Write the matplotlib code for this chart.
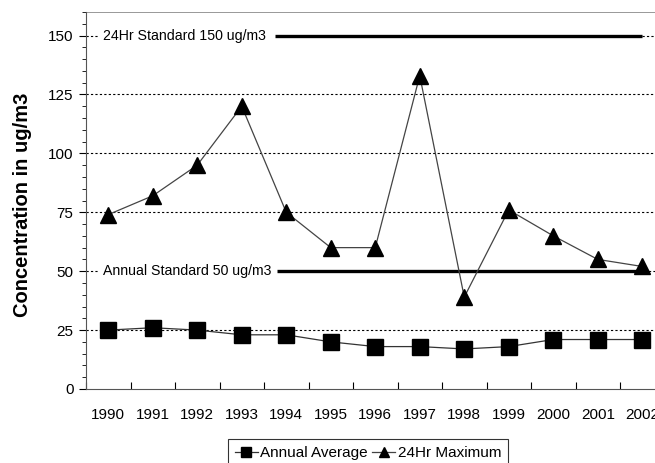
import matplotlib.pyplot as plt
from matplotlib.ticker import MultipleLocator

# data
years = ['1990', '1991', '1992', '1993', '1994', '1995', '1996',
         '1997', '1998', '1999', '2000', '2001', '2002']
annual_avg = [25, 26, 25, 23, 23, 20, 18, 18, 17, 18, 21, 21, 21]
max_24hr = [74, 82, 95, 120, 75, 60, 60, 133, 39, 76, 65, 55, 52]
std_24hr = 150
std_annual = 50

plt.rcParams['font.family'] = ['Liberation Sans', 'DejaVu Sans']
FS = 11

W, H = 655, 463
fig = plt.figure(figsize=(W / 100, H / 100), dpi=100)
# axes runs past the right edge of the picture, like the original
x0, x1, y0, y1 = 86, 664.5, 12, 389
ax = fig.add_axes([x0 / W, 1 - y1 / H, (x1 - x0) / W, (y1 - y0) / H])

xs = list(range(len(years)))
ax.set_xlim(-0.5, len(years) - 0.5)
ax.set_ylim(0, 160)

# grid lines
for g in [25, 75, 100, 125]:
    ax.axhline(g, color='black', lw=0.8, ls=(0, (2, 2)), zorder=1)

# standard lines: dotted near the axis, label, then thick line
ax.plot([-0.5, -0.2], [std_24hr] * 2, color='black', lw=0.8, ls=(0, (2, 2)))
ax.text(-0.12, std_24hr, '24Hr Standard 150 ug/m3', fontsize=10.2, va='center', ha='left')
ax.plot([3.75, 12.0], [std_24hr] * 2, color='black', lw=2.4, solid_capstyle='butt')
ax.plot([12.0, 12.5], [std_24hr] * 2, color='black', lw=0.8, ls=(0, (2, 2)))

ax.plot([-0.5, -0.2], [std_annual] * 2, color='black', lw=0.8, ls=(0, (2, 2)))
ax.text(-0.12, std_annual, 'Annual Standard 50 ug/m3', fontsize=10.2, va='center', ha='left')
ax.plot([3.8, 12.05], [std_annual] * 2, color='black', lw=2.4, solid_capstyle='butt')
ax.plot([12.05, 12.5], [std_annual] * 2, color='black', lw=0.8, ls=(0, (2, 2)))

l1, = ax.plot(xs, annual_avg, color='#333333', lw=0.9, marker='s', ms=11,
              mfc='black', mec='black', label='Annual Average', zorder=3)
l2, = ax.plot(xs, max_24hr, color='#444444', lw=0.9, marker='^', ms=11,
              mfc='black', mec='black', label='24Hr Maximum', zorder=3)

ax.set_xticks([x + 0.5 for x in xs[:-1]] + [-0.5])
ax.set_xticklabels([])
ax.set_xticks(xs, minor=True)
ax.set_xticklabels(years, minor=True, fontsize=FS)
ax.tick_params(axis='x', which='minor', length=0, pad=14)
ax.tick_params(axis='x', which='major', length=5, direction='in')

ax.yaxis.set_major_locator(MultipleLocator(25))
ax.yaxis.set_minor_locator(MultipleLocator(5))
ax.tick_params(axis='y', which='major', length=5, labelsize=FS, pad=4)
ax.tick_params(axis='y', which='minor', length=3)

for s in ['top', 'right']:
    ax.spines[s].set_visible(False)
ax.spines['left'].set_color('#555555')
ax.spines['bottom'].set_color('#555555')
ax.axhline(160, color='#888888', lw=1.2)

fig.text(23 / W, 1 - 205 / H, 'Concentration in ug/m3', rotation=90, fontsize=14.5,
         fontweight='bold', ha='center', va='center')

leg = fig.legend(handles=[l1, l2], loc='upper left', bbox_to_anchor=(228 / W, 1 - 439 / H),
                 ncol=2, fontsize=FS, frameon=True, fancybox=False, edgecolor='black',
                 handlelength=1.5, handletextpad=0.15, columnspacing=0.3,
                 borderpad=0.45, borderaxespad=0, markerscale=0.6)
leg.get_frame().set_linewidth(0.8)

fig.savefig('out.png', dpi=100)
